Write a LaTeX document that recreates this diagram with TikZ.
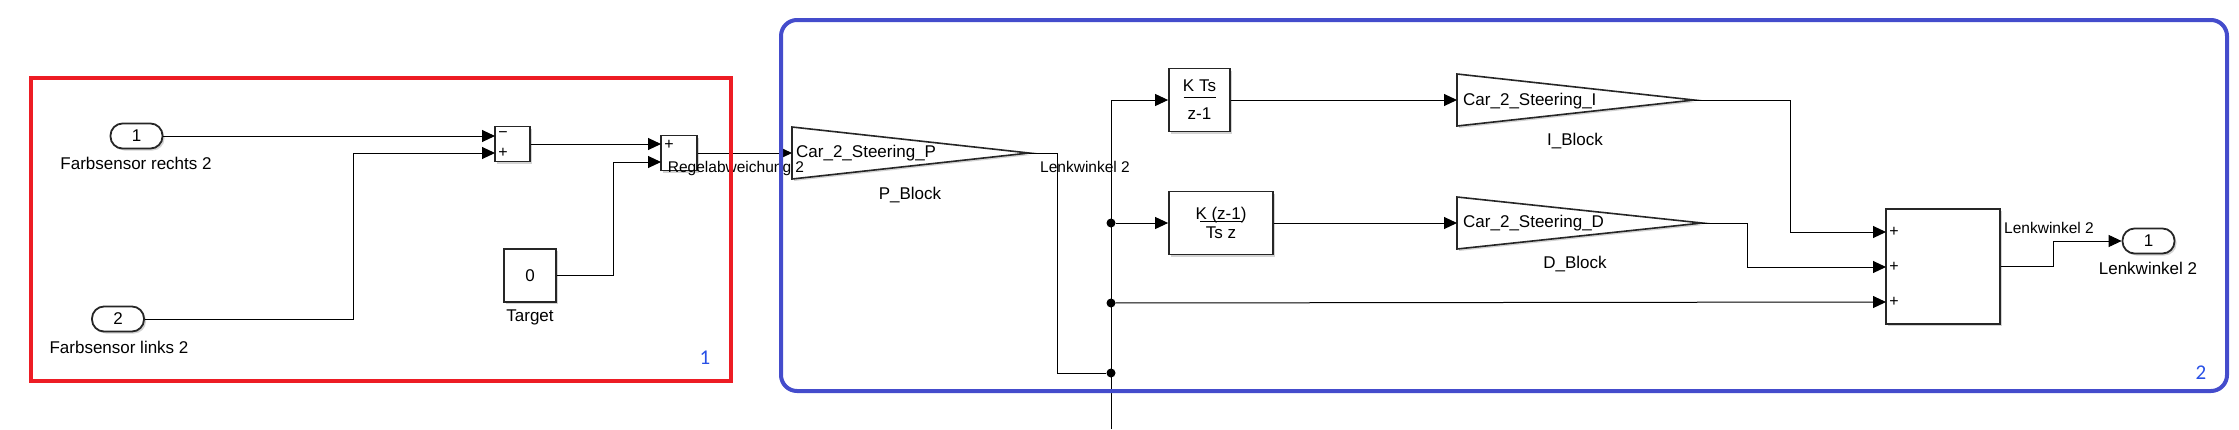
\documentclass[tikz,border=0pt]{standalone}
\usepackage{fontspec}
\setmainfont{Liberation Sans}
\newfontfamily\areafont{Carlito}
\usetikzlibrary{arrows.meta,shadows}

\definecolor{areared}{RGB}{237,28,36}
\definecolor{areablue}{RGB}{68,76,204}
\definecolor{areatext}{RGB}{40,80,230}

\begin{document}
\begin{tikzpicture}[
  x=1pt, y=-1pt,
  font=\fontsize{17}{20}\selectfont,
  link/.style={line width=1pt},
  wire/.style={link, -{Triangle[length=13pt, width=12pt]}},
  blk/.style={draw=black!85, line width=1.8pt, fill=white, inner sep=0pt,
    drop shadow={shadow xshift=2pt, shadow yshift=-2pt, opacity=0.35}},
  port/.style={blk, rounded corners=12pt, minimum width=52pt, minimum height=25pt},
  gainshape/.style={draw=black!85, line width=1.6pt, fill=white,
    drop shadow={shadow xshift=2pt, shadow yshift=-2pt, opacity=0.35}},
  gaintext/.style={anchor=west, inner sep=0pt},
  sig/.style={font=\fontsize{15.5}{18}\selectfont, inner sep=0pt},
  sign/.style={font=\fontsize{16}{18}\selectfont, inner sep=0pt},
  dot/.style={circle, fill=black, inner sep=0pt, minimum size=9pt},
  arealabel/.style={text=areatext, font=\areafont\fontsize{21}{24}\selectfont},
]
\useasboundingbox (0,0) rectangle (2239,429);

% --- Area 1: sensor difference and set point ---
\node[port] (inA) at (136.5,136) {1};
\node (inA-lbl) at (136,163) {Farbsensor rechts 2};
\node[port] (inB) at (118,319) {2};
\node (inB-lbl) at (119,347) {Farbsensor links 2};

\node[blk, minimum width=35pt, minimum height=35pt] (sumA) at (512.5,144) {};
\coordinate (sumA-in1) at (495,136);
\coordinate (sumA-in2) at (495,153);
\node[sign] (sumA-s1) at (503,135) {−};
\node[sign] (sumA-s2) at (503,153) {+};

\node[blk, minimum width=36pt, minimum height=35pt] (sumB) at (679,153) {};
\coordinate (sumB-in1) at (661,144);
\coordinate (sumB-in2) at (661,162);
\node[sign] (sumB-s1) at (669,145) {+};

\node[blk, minimum width=52pt, minimum height=53pt] (tgt) at (530,275.5) {0};
\node (tgt-lbl) at (530,317) {Target};

% bend points of the wires
\coordinate (bendB) at (353,153);
\coordinate (bendT) at (613,162);

% --- Area 2: P, I and D branches ---
\coordinate (gainP-in) at (792,153);
\coordinate (gainP-out) at (1029,153);
\draw[gainshape] (792,127) -- (gainP-out) -- (792,179) -- cycle;
\node[gaintext] (gainP) at (796,153) {Car\_2\_Steering\_P};
\node (gainP-lbl) at (910,195) {P\_Block};

\node[blk, minimum width=61pt, minimum height=63pt, align=center] (integ) at (1199.5,100)
  {K Ts\\[-14pt]\rule{32pt}{1pt}\\[2pt]z-1};
\node[blk, minimum width=104pt, minimum height=63pt, align=center] (deriv) at (1221,223)
  {K (z-1)\\[-18pt]\rule{42pt}{1pt}\\[-3pt]Ts z};

\coordinate (gainI-in) at (1457,100);
\coordinate (gainI-out) at (1694,100);
\draw[gainshape] (1457,74) -- (gainI-out) -- (1457,126) -- cycle;
\node[gaintext] (gainI) at (1463,101) {Car\_2\_Steering\_I};
\node (gainI-lbl) at (1575,141) {I\_Block};

\coordinate (gainD-in) at (1457,223);
\coordinate (gainD-out) at (1702,223);
\draw[gainshape] (1457,197) -- (gainD-out) -- (1457,249) -- cycle;
\node[gaintext] (gainD) at (1463,223) {Car\_2\_Steering\_D};
\node (gainD-lbl) at (1575,264) {D\_Block};

% summing block with three inputs
\node[blk, minimum width=114pt, minimum height=115pt] (sumC) at (1943,266.5) {};
\foreach \k/\y in {1/232,2/267,3/302} {
  \coordinate (sumC-in\k) at (1886,\y);
  \node[sign] (sumC-s\k) at (1894,\y) {+};
}

\node[port] (outA) at (2148.5,241) {1};
\node (outA-lbl) at (2148,268) {Lenkwinkel 2};

\coordinate (busEnd) at (1111,429);
\coordinate (bendP) at (1057,373);
\coordinate (bendI) at (1790,232);
\coordinate (bendD) at (1747,267);
\coordinate (bendO) at (2053,241);

% --- Wires ---
\draw[wire] (inA.east) -- (sumA-in1);
\draw[wire] (inB.east) -| (bendB) -- (sumA-in2);
\draw[wire] (sumA.east) -- (sumB-in1);
\draw[wire] (tgt.east) -| (bendT) -- (sumB-in2);
\draw[wire] (sumB.east) -- (gainP-in);
\node[sig] (err-lbl) at (736,168) {Regelabweichung 2};

\draw[wire] (busEnd) |- (integ.west);
\node[dot] (jA) at (1111,373) {};
\node[dot] (jB) at (1111,303) {};
\node[dot] (jC) at (1111,223) {};
\draw[link] (gainP-out) -| (bendP) -- (jA);
\node[sig] (ang-lbl) at (1085,167) {Lenkwinkel 2};

\draw[wire] (jC) -- (deriv.west);
\draw[wire] (jB) -- (sumC-in3);
\draw[wire] (integ.east) -- (gainI-in);
\draw[wire] (deriv.east) -- (gainD-in);
\draw[wire] (gainI-out) -| (bendI) -- (sumC-in1);
\draw[wire] (gainD-out) -| (bendD) -- (sumC-in2);
\draw[wire] (sumC.east) -| (bendO) -- (outA.west);
\node[sig] (out-sig) at (2049,228) {Lenkwinkel 2};

% --- Area frames ---
\draw[line width=4pt, areared] (31,78) rectangle (731,381);
\draw[line width=4pt, areablue, rounded corners=16pt] (781,20) rectangle (2227,391);
\node[arealabel] (area1) at (705,358) {1};
\node[arealabel] (area2) at (2201,373) {2};

\end{tikzpicture}
\end{document}
